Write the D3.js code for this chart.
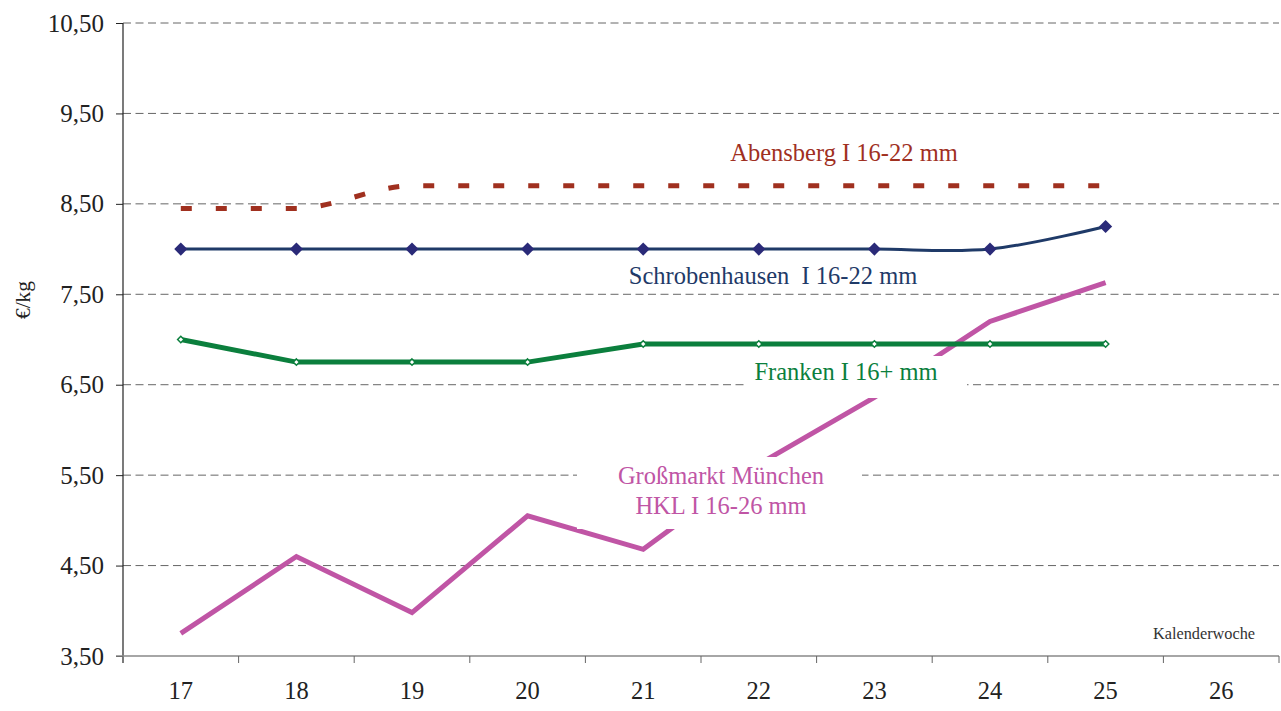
<!DOCTYPE html>
<html>
<head>
<meta charset="utf-8">
<script src="https://cdn.jsdelivr.net/npm/d3@7"></script>
<style>
  body { margin: 0; background: #fff; }
  svg { font-family: "Liberation Serif", "Times New Roman", serif; }
</style>
</head>
<body>
<div class="chart"></div>
<script>
// Kalenderwochen und Preise (€/kg)
const weeks = [17, 18, 19, 20, 21, 22, 23, 24, 25, 26];
const yTicks = [3.5, 4.5, 5.5, 6.5, 7.5, 8.5, 9.5, 10.5];

const abensberg = [8.45, 8.45, 8.70, 8.70, 8.70, 8.70, 8.70, 8.70, 8.70];
const schrobenhausen = [8.00, 8.00, 8.00, 8.00, 8.00, 8.00, 8.00, 8.00, 8.25];
const franken = [7.00, 6.75, 6.75, 6.75, 6.95, 6.95, 6.95, 6.95, 6.95];
const muenchen = [3.75, 4.60, 3.98, 5.05, 4.68, 5.62, 6.36, 7.20, 7.63];

const width = 1281;
const height = 711;

const svg = d3.select('.chart')
  .append('svg')
  .attr('width', width)
  .attr('height', height);

const x = d3.scaleBand().domain(weeks).range([123, 1279]).paddingInner(0);
const y = d3.scaleLinear().domain([3.5, 10.5]).range([656, 23]);
const cx = w => x(w) + x.bandwidth() / 2;

// Gitterlinien
svg.selectAll('line.grid')
  .data(yTicks.slice(1))
  .enter()
  .append('line')
  .attr('class', 'grid')
  .attr('x1', 123).attr('x2', 1279)
  .attr('y1', d => y(d)).attr('y2', d => y(d))
  .attr('stroke', '#666')
  .attr('stroke-width', 1)
  .attr('stroke-dasharray', '8 4.5');

// y-Achse
const yAxis = svg.append('g')
  .attr('transform', 'translate(123,0)')
  .call(d3.axisLeft(y).tickValues(yTicks).tickSize(7).tickPadding(12)
    .tickFormat(d => d3.format('.2f')(d).replace('.', ',')));
yAxis.select('.domain').remove();
yAxis.selectAll('line').attr('stroke', '#222');
yAxis.selectAll('text').attr('font-size', '25px').attr('fill', '#222')
  .attr('font-family', '"Liberation Serif", serif');
svg.append('line')
  .attr('x1', 123).attr('x2', 123).attr('y1', 23).attr('y2', 663)
  .attr('stroke', '#222').attr('stroke-width', 1.2);

// x-Achse
svg.append('line')
  .attr('x1', 116).attr('x2', 1279).attr('y1', 656).attr('y2', 656)
  .attr('stroke', '#888').attr('stroke-width', 1.5);
svg.selectAll('line.xtick')
  .data(weeks.slice(1).concat(['end']))
  .enter()
  .append('line')
  .attr('x1', d => d === 'end' ? 1279 : x(d))
  .attr('x2', d => d === 'end' ? 1279 : x(d))
  .attr('y1', 656).attr('y2', 663)
  .attr('stroke', '#666');
svg.selectAll('text.xlab')
  .data(weeks)
  .enter()
  .append('text')
  .attr('x', d => cx(d))
  .attr('y', 699)
  .attr('text-anchor', 'middle')
  .attr('font-size', '24.5px')
  .attr('fill', '#222')
  .text(d => d);

svg.append('text')
  .attr('x', 1204).attr('y', 639)
  .attr('text-anchor', 'middle')
  .attr('font-size', '16.3px')
  .attr('fill', '#333')
  .text('Kalenderwoche');

svg.append('text')
  .attr('transform', 'translate(30,300) rotate(-90)')
  .attr('text-anchor', 'middle')
  .attr('font-size', '21.5px')
  .attr('fill', '#222')
  .text('€/kg');

const pts = arr => arr.map((v, i) => [cx(weeks[i]), y(v)]);

// Großmarkt München
svg.append('path')
  .attr('d', d3.line()(pts(muenchen)))
  .attr('fill', 'none')
  .attr('stroke', '#c055a5')
  .attr('stroke-width', 5);

// Abensberg
svg.append('path')
  .attr('d', d3.line().curve(d3.curveMonotoneX)(pts(abensberg)))
  .attr('fill', 'none')
  .attr('stroke', '#a0301f')
  .attr('stroke-width', 5)
  .attr('stroke-dasharray', '11 24');

// Franken
svg.append('path')
  .attr('d', d3.line()(pts(franken)))
  .attr('fill', 'none')
  .attr('stroke', '#0b7f3d')
  .attr('stroke-width', 5);
svg.selectAll('path.fm')
  .data(pts(franken))
  .enter()
  .append('path')
  .attr('transform', d => `translate(${d[0]},${d[1]})`)
  .attr('d', d3.symbol(d3.symbolDiamond2, 26))
  .attr('fill', '#fff')
  .attr('stroke', '#0b7f3d')
  .attr('stroke-width', 1.5);

// Schrobenhausen
svg.append('path')
  .attr('d', d3.line().curve(d3.curveCatmullRom.alpha(0.5))(pts(schrobenhausen)))
  .attr('fill', 'none')
  .attr('stroke', '#1f3a68')
  .attr('stroke-width', 3);
svg.selectAll('path.sm')
  .data(pts(schrobenhausen))
  .enter()
  .append('path')
  .attr('transform', d => `translate(${d[0]},${d[1]})`)
  .attr('d', d3.symbol(d3.symbolDiamond2, 110))
  .attr('fill', '#2a2a78');

// Beschriftungen mit weißem Hintergrund
svg.append('rect').attr('x', 745).attr('y', 356).attr('width', 222).attr('height', 42).attr('fill', '#fff');
svg.append('rect').attr('x', 577).attr('y', 457).attr('width', 285).attr('height', 72).attr('fill', '#fff');

const labels = [
  { t: 'Abensberg I 16-22 mm', x: 844, y: 161, c: '#a0301f' },
  { t: 'Schrobenhausen  I 16-22 mm', x: 773, y: 284, c: '#1f3a68' },
  { t: 'Franken I 16+ mm', x: 846, y: 380, c: '#0b7f3d' },
  { t: 'Großmarkt München', x: 721, y: 484, c: '#c055a5' },
  { t: 'HKL I 16-26 mm', x: 721, y: 514, c: '#c055a5' }
];
svg.selectAll('text.lab')
  .data(labels)
  .enter()
  .append('text')
  .attr('x', d => d.x)
  .attr('y', d => d.y)
  .attr('text-anchor', 'middle')
  .attr('font-size', '24.5px')
  .attr('fill', d => d.c)
  .style('white-space', 'pre')
  .text(d => d.t);
</script>
</body>
</html>
